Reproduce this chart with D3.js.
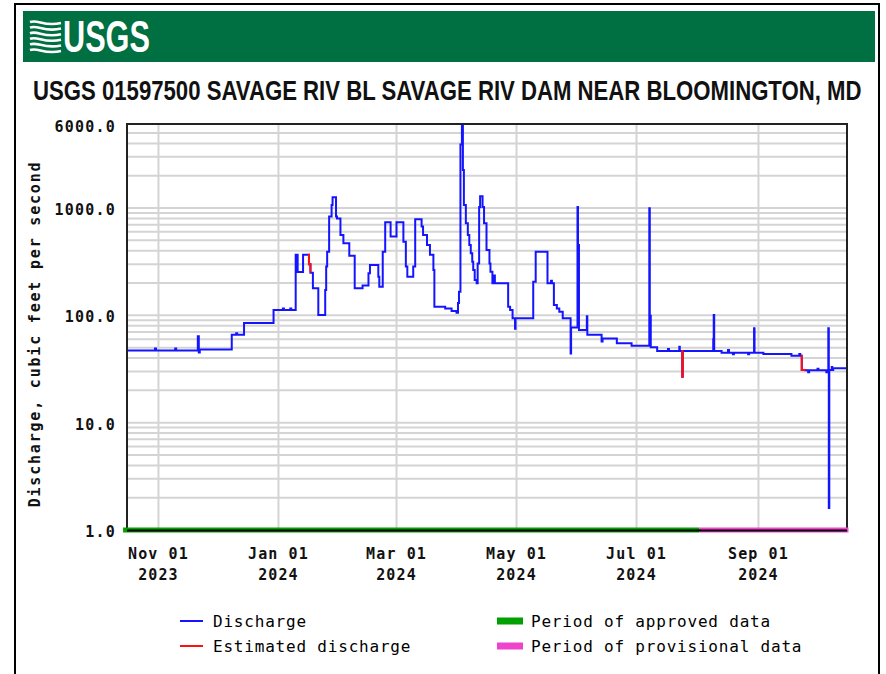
<html>
<head><meta charset="utf-8"></head>
<body style="margin:0;background:white">
<svg id="svg" width="886" height="674"></svg>
<script src="https://cdn.jsdelivr.net/npm/d3@7"></script>
<script>

// discharge, step changes (cfs)
var flowDates = [
  "2023-10-16 00","2023-10-30 06","2023-10-30 18","2023-11-09 12","2023-11-10 00",
  "2023-11-21 00","2023-11-21 12","2023-11-22 00","2023-12-08 06","2023-12-10 12",
  "2023-12-11 00","2023-12-14 12","2023-12-29 12","2024-01-03 06","2024-01-03 18",
  "2024-01-07 00","2024-01-07 12","2024-01-09 18","2024-01-10 18","2024-01-13 12",
  "2024-01-16 00","2024-01-16 12","2024-01-17 06","2024-01-18 12","2024-01-21 06",
  "2024-01-24 18","2024-01-25 06","2024-01-25 18","2024-01-26 18","2024-01-28 00",
  "2024-01-28 12","2024-01-30 06","2024-01-30 18","2024-02-01 12","2024-02-03 00",
  "2024-02-06 00","2024-02-08 18","2024-02-12 18","2024-02-15 18","2024-02-16 12",
  "2024-02-20 18","2024-02-21 06","2024-02-23 00","2024-02-24 06","2024-02-27 00",
  "2024-03-01 00","2024-03-04 12","2024-03-05 18","2024-03-06 12","2024-03-09 12",
  "2024-03-10 12","2024-03-13 18","2024-03-14 12","2024-03-16 12","2024-03-18 00",
  "2024-03-19 18","2024-03-20 06","2024-03-25 18","2024-03-29 00","2024-03-31 12",
  "2024-04-01 06","2024-04-01 18","2024-04-02 12","2024-04-03 06","2024-04-03 18",
  "2024-04-04 06","2024-04-05 06","2024-04-06 06","2024-04-07 00","2024-04-07 18",
  "2024-04-08 12","2024-04-09 00","2024-04-09 18","2024-04-10 18","2024-04-11 06",
  "2024-04-12 00","2024-04-12 12","2024-04-13 18","2024-04-14 12","2024-04-15 18",
  "2024-04-17 06","2024-04-17 18","2024-04-18 18","2024-04-19 12","2024-04-20 00",
  "2024-04-26 18","2024-04-27 18","2024-04-29 00","2024-04-30 06","2024-04-30 12",
  "2024-05-09 12","2024-05-10 18","2024-05-16 18","2024-05-18 12","2024-05-19 00",
  "2024-05-20 00","2024-05-21 12","2024-05-22 18","2024-05-24 12","2024-05-28 12",
  "2024-05-28 18","2024-06-01 00","2024-06-01 06","2024-06-01 18","2024-06-05 18",
  "2024-06-06 00","2024-06-13 06","2024-06-13 18","2024-06-21 00","2024-06-28 12",
  "2024-07-07 12","2024-07-07 18","2024-07-08 06","2024-07-11 12","2024-07-17 00",
  "2024-07-17 12","2024-07-22 18","2024-07-23 00","2024-07-24 00","2024-07-24 06",
  "2024-07-24 12","2024-08-09 00","2024-08-09 06","2024-08-09 12","2024-08-13 06",
  "2024-08-16 12","2024-08-17 00","2024-08-19 00","2024-08-19 12","2024-08-26 18",
  "2024-08-27 06","2024-08-29 18","2024-08-30 00","2024-09-03 12","2024-09-17 18",
  "2024-09-21 18","2024-09-22 06","2024-09-23 00","2024-09-24 18","2024-09-26 06",
  "2024-09-26 18","2024-10-01 00","2024-10-01 12","2024-10-05 12","2024-10-06 06",
  "2024-10-06 12","2024-10-06 18","2024-10-07 00","2024-10-08 06","2024-10-08 12",
  "2024-10-09 00","2024-10-16 00"
];
var flowValues = [
  47, 49, 47, 49, 47,
  64, 45, 48, 66, 68,
  66, 85, 112, 116, 112,
  116, 112, 366, 254, 366,
  366, 300, 250, 179, 101,
  172, 285, 392, 832, 1069,
  1260, 832, 800, 561, 470,
  360, 179, 190, 247, 295,
  229, 185, 392, 738, 542,
  738, 486, 285, 229, 285,
  787, 671, 561, 453, 366,
  265, 120, 116, 110, 106,
  130, 166, 3900, 5800, 2265,
  1068, 723, 561, 453, 379,
  316, 265, 214, 199, 304,
  1023, 1290, 1023, 723, 407,
  304, 255, 199, 235, 199,
  120, 112, 94, 75, 94,
  206, 392, 199, 210, 199,
  125, 116, 108, 94, 44,
  77, 1023, 453, 73, 98,
  66, 57, 61, 55, 52,
  995, 99, 50.4, 46.6, 48.5,
  46.6, 51, 46.6, 46.6, 26.8,
  46.6, 60, 101, 46.6, 44.9,
  47.5, 44.9, 43.5, 44.9, 43.5,
  44.9, 75.8, 44.9, 43.6, 42,
  43.6, 42, 31, 30.8, 29.5,
  30.8, 31.8, 30.8, 29.5, 30.8,
  75.8, 1.6, 31, 33, 31,
  32.1, 32.1
];

// estimated discharge pieces
var estDates = [
  ["2024-01-16 00","2024-01-16 12","2024-01-17 06"],
  ["2024-07-24 00","2024-07-24 06","2024-07-24 12"],
  ["2024-09-22 18","2024-09-23 00","2024-09-24 18"]
];
var estValues = [
  [366, 300, 250],
  [46.6, 26.8, 46.6],
  [42, 31, 30.8]
];

var tickDates = ["2023-11-01","2024-01-01","2024-03-01","2024-05-01","2024-07-01","2024-09-01"];
var tickMonths = ["Nov 01","Jan 01","Mar 01","May 01","Jul 01","Sep 01"];
var tickYears = ["2023","2024","2024","2024","2024","2024"];
var yTicks = [6000, 1000, 100, 10, 1];
var yTickLabels = ["6000.0","1000.0","100.0","10.0","1.0"];

var approvedPeriod = ["2023-10-14 00","2024-08-02 00"];
var provisionalPeriod = ["2024-08-02 00","2024-10-16 18"];

var parseT = d3.timeParse("%Y-%m-%d %H");
var parseD = d3.timeParse("%Y-%m-%d");

var svg = d3.select("#svg");
var mono = "'DejaVu Sans Mono', 'Liberation Mono', monospace";
var narrow = "'Liberation Sans Narrow', 'Liberation Sans', Arial, sans-serif";

var x = d3.scaleTime()
  .domain([parseT("2023-10-16 00"), parseT("2024-10-16 00")])
  .range([127, 847]);
var y = d3.scaleLog().domain([1, 6000]).range([530, 124.5]);

// outer frame + header
svg.append("rect").attr("x", 15).attr("y", 4).attr("width", 864).attr("height", 700)
  .attr("fill", "white").attr("stroke", "black").attr("stroke-width", 2);
svg.append("rect").attr("x", 23).attr("y", 11).attr("width", 852).attr("height", 51)
  .attr("fill", "#006f41");

var logo = svg.append("g").attr("fill", "none").attr("stroke", "white").attr("stroke-width", 2.6);
for (var i = 0; i < 6; i++) {
  var y0 = 22 + i * 5.6;
  logo.append("path")
    .attr("d", "M30," + y0 + " C38," + (y0 - 3) + " 44," + (y0 + 5) + " 61," + (y0 + 1));
}

// squeeze a text to a given width with a transform
function fitText(sel, x0, y0, w) {
  var n = sel.node().getComputedTextLength();
  sel.attr("transform", "translate(" + x0 + "," + y0 + ") scale(" + (w / n) + ",1)");
}

var logoText = svg.append("text").text("USGS")
  .attr("fill", "white").attr("font-family", narrow)
  .attr("font-weight", "bold").attr("font-size", 45);
fitText(logoText, 63, 52, 87);

var title = svg.append("text")
  .text("USGS 01597500 SAVAGE RIV BL SAVAGE RIV DAM NEAR BLOOMINGTON, MD")
  .attr("font-family", narrow)
  .attr("font-weight", "bold").attr("font-size", 27).attr("fill", "#111");
fitText(title, 33, 100, 829);

// grid
var minor = [];
[1, 10, 100, 1000].forEach(function(d) {
  for (var k = 1; k <= 9; k++) {
    var v = k * d;
    if (v > 1 && v < 6000) minor.push(v);
  }
});
svg.append("g").selectAll("line").data(minor).join("line")
  .attr("x1", 127).attr("x2", 847)
  .attr("y1", d => y(d)).attr("y2", d => y(d))
  .attr("stroke", "#d4d4d4").attr("stroke-width", 2);
svg.append("g").selectAll("line").data(tickDates).join("line")
  .attr("x1", d => x(parseD(d))).attr("x2", d => x(parseD(d)))
  .attr("y1", 124).attr("y2", 530)
  .attr("stroke", "#d4d4d4").attr("stroke-width", 2);

// discharge
var flow = flowDates.map((d, i) => ({t: parseT(d), v: flowValues[i]}));
var line = d3.line().x(d => x(d.t)).y(d => y(d.v)).curve(d3.curveStepAfter);
svg.append("path").datum(flow).attr("d", line)
  .attr("fill", "none").attr("stroke", "#1414ff").attr("stroke-width", 2);

svg.append("g").selectAll("path").data(estDates).join("path")
  .attr("d", (ds, j) => line(ds.map((d, i) => ({t: parseT(d), v: estValues[j][i]}))))
  .attr("fill", "none").attr("stroke", "#ff1010").attr("stroke-width", 2);

// frame of plot
svg.append("rect").attr("x", 127).attr("y", 124).attr("width", 720).attr("height", 406)
  .attr("fill", "none").attr("stroke", "#222").attr("stroke-width", 2);

// data-status bands
svg.append("rect").attr("x", x(parseT(approvedPeriod[0]))).attr("y", 527.5)
  .attr("width", x(parseT(approvedPeriod[1])) - x(parseT(approvedPeriod[0]))).attr("height", 5)
  .attr("fill", "#00a000");
svg.append("rect").attr("x", x(parseT(provisionalPeriod[0]))).attr("y", 527.5)
  .attr("width", x(parseT(provisionalPeriod[1])) - x(parseT(provisionalPeriod[0]))).attr("height", 5)
  .attr("fill", "#ee44cc");
svg.append("line").attr("x1", 127).attr("x2", 847).attr("y1", 530.5).attr("y2", 530.5)
  .attr("stroke", "black").attr("stroke-width", 2);

// y labels
svg.append("g").selectAll("text").data(yTicks).join("text")
  .attr("x", 116).attr("y", d => y(d) + 2)
  .attr("dominant-baseline", "central").attr("text-anchor", "end")
  .text((d, i) => yTickLabels[i])
  .attr("font-family", mono).attr("font-weight", "bold").attr("font-size", 15)
  .attr("letter-spacing", 1.2).attr("fill", "#111");

svg.append("text")
  .attr("transform", "translate(40,334) rotate(-90)")
  .attr("text-anchor", "middle")
  .text("Discharge, cubic feet per second")
  .attr("font-family", mono).attr("font-weight", "bold").attr("font-size", 15)
  .attr("letter-spacing", 1.8).attr("fill", "#111");

// x labels
var xl = svg.append("g").selectAll("g").data(tickDates).join("g")
  .attr("transform", d => "translate(" + x(parseD(d)) + ",0)");
xl.append("text").attr("y", 559).attr("text-anchor", "middle")
  .text((d, i) => tickMonths[i]);
xl.append("text").attr("y", 580).attr("text-anchor", "middle")
  .text((d, i) => tickYears[i]);
xl.selectAll("text")
  .attr("font-family", mono).attr("font-weight", "bold").attr("font-size", 15)
  .attr("letter-spacing", 1.1).attr("fill", "#111");

// legend
var legLines = [["Discharge", "#1414ff", 180, 621], ["Estimated discharge", "#ff1010", 180, 646]];
var legBoxes = [["Period of approved data", "#00a000", 497, 621], ["Period of provisional data", "#ee44cc", 497, 646]];
legLines.forEach(function(l) {
  svg.append("line").attr("x1", l[2]).attr("x2", l[2] + 23).attr("y1", l[3]).attr("y2", l[3])
    .attr("stroke", l[1]).attr("stroke-width", 2);
  svg.append("text").attr("x", l[2] + 33).attr("y", l[3] + 6).text(l[0])
    .attr("font-family", mono).attr("font-size", 16).attr("letter-spacing", 0.8).attr("fill", "#000");
});
legBoxes.forEach(function(l) {
  svg.append("rect").attr("x", l[2]).attr("y", l[3] - 3.5).attr("width", 26).attr("height", 7)
    .attr("fill", l[1]);
  svg.append("text").attr("x", l[2] + 34).attr("y", l[3] + 6).text(l[0])
    .attr("font-family", mono).attr("font-size", 16).attr("letter-spacing", 0.8).attr("fill", "#000");
});

</script>
</body>
</html>
